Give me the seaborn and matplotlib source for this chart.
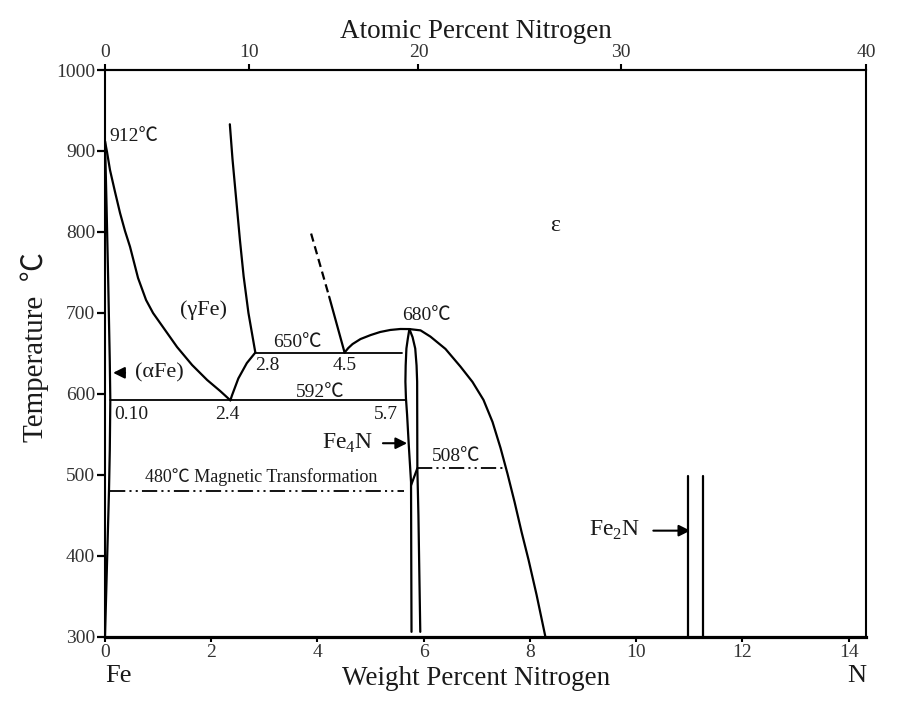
import matplotlib
matplotlib.use("Agg")
import matplotlib.pyplot as plt
import seaborn as sns

# Fe-N phase diagram, weight percent N vs temperature
alpha_x = [0.0, 0.03, 0.06, 0.09, 0.10, 0.09, 0.075, 0.05, 0.025, 0.0]
alpha_t = [912, 830, 740, 640, 592, 530, 480, 420, 360, 300]

gamma_left_x = [0.0, 0.038, 0.094, 0.189, 0.283, 0.377, 0.471, 0.622, 0.773,
                0.905, 1.131, 1.357, 1.640, 1.923, 2.168, 2.36]
gamma_left_t = [912, 898.7, 876.5, 849.3, 823.4, 801.1, 781.7, 743.1, 715.9,
                699.8, 678.8, 657.8, 635.6, 617.1, 603.5, 592]

gamma_right_x = [2.36, 2.39, 2.51, 2.67, 2.83]
gamma_right_t = [592, 598, 619, 638, 651]

gamma_solvus_x = [2.83, 2.70, 2.61, 2.54, 2.47, 2.40, 2.35]
gamma_solvus_t = [651, 700, 745, 790, 840, 890, 933]

dashed_x = [3.88, 4.22]
dashed_t = [798, 720]
solid_x = [4.22, 4.51]
solid_t = [720, 651]

eps_left_x = [4.51, 4.58, 4.66, 4.81, 5.00, 5.18, 5.37, 5.56, 5.73]
eps_left_t = [651, 656.6, 661.5, 667.7, 672.6, 676.4, 678.9, 680.1, 680]

eps_right_x = [5.73, 5.94, 6.126, 6.409, 6.692, 6.918, 7.125, 7.295, 7.446,
               7.578, 7.710, 7.842, 7.974, 8.125, 8.29]
eps_right_t = [680, 678.4, 670.7, 655.5, 633.6, 614.7, 592.5, 565.3, 533.1,
               501.0, 466.4, 429.3, 394.7, 351.5, 300]

fe4n_left_x = [5.73, 5.70, 5.674, 5.66, 5.655, 5.665, 5.687, 5.72, 5.761,
               5.765, 5.77]
fe4n_left_t = [680, 668, 656, 635, 615, 595, 574, 535, 491, 400, 306]
fe4n_right_x = [5.73, 5.79, 5.84, 5.865, 5.876, 5.878, 5.88, 5.90, 5.935]
fe4n_right_t = [680, 670, 656, 635, 615, 560, 508, 450, 306]
fe4n_diag_x = [5.761, 5.88]
fe4n_diag_t = [487, 508]

iso650_x = [2.83, 5.59]
iso592_x = [0.10, 5.65]
iso508_x = [5.88, 7.54]
iso480_x = [0.09, 5.62]

fe2n_x = [10.98, 11.25]
fe2n_t = [300, 498]

bottom_ticks = [0, 2, 4, 6, 8, 10, 12, 14]
top_ticks = [0, 10, 20, 30, 40]
y_ticks = [300, 400, 500, 600, 700, 800, 900, 1000]


def wt_to_at(w):
    n = w / 14.007
    return 100 * n / (n + (100 - w) / 55.845)


def at_to_wt(a):
    return 100 * 14.007 * a / (14.007 * a + 55.845 * (100 - a))


def draw(ax, xs, ts, lw=1.6, ls='-'):
    sns.lineplot(x=xs, y=ts, sort=False, estimator=None, color='black',
                 linewidth=lw, linestyle=ls, ax=ax)


sns.set_style('ticks')
plt.rcParams['font.family'] = ['Liberation Serif', 'Noto Sans CJK KR']
plt.rcParams['mathtext.fontset'] = 'custom'
plt.rcParams['mathtext.rm'] = 'Liberation Serif'
plt.rcParams['lines.scale_dashes'] = False

fig = plt.figure(figsize=(8.99, 7.03), dpi=100)
ax = fig.add_axes([0.1168, 0.0943, 0.8465, 0.8061])

draw(ax, alpha_x, alpha_t)
draw(ax, gamma_left_x, gamma_left_t)
draw(ax, gamma_right_x, gamma_right_t)
draw(ax, gamma_solvus_x, gamma_solvus_t)
draw(ax, dashed_x, dashed_t, ls=(0, (6, 3.5)))
draw(ax, solid_x, solid_t)
draw(ax, eps_left_x, eps_left_t)
draw(ax, eps_right_x, eps_right_t)
draw(ax, fe4n_left_x, fe4n_left_t)
draw(ax, fe4n_right_x, fe4n_right_t)
draw(ax, fe4n_diag_x, fe4n_diag_t)
draw(ax, iso650_x, [650, 650], lw=1.3)
draw(ax, iso592_x, [592, 592], lw=1.3)
ddot = (0, (11, 3, 1.5, 3, 1.5, 3))
draw(ax, iso508_x, [508, 508], lw=1.3, ls=ddot)
draw(ax, iso480_x, [480, 480], lw=1.3, ls=ddot)
for xv in fe2n_x:
    draw(ax, [xv, xv], fe2n_t)

arrow = dict(arrowstyle='-|>', color='black', lw=1.5, mutation_scale=17)
ax.annotate('', xy=(0.10, 626), xytext=(0.43, 626), arrowprops=arrow)
ax.annotate('', xy=(5.74, 539), xytext=(5.18, 539), arrowprops=arrow)
ax.annotate('', xy=(11.07, 431), xytext=(10.27, 431), arrowprops=arrow)

c = '#1a1a1a'
ax.text(0.075, 918, '912℃', fontsize=14, ha='left', va='center', color=c)
ax.text(1.85, 703, '(γFe)', fontsize=16, ha='center', va='center', color=c)
ax.text(3.63, 664, '650℃', fontsize=14, ha='center', va='center', color=c)
ax.text(2.83, 635, '2.8', fontsize=14, ha='left', va='center', color=c)
ax.text(4.51, 635, '4.5', fontsize=14, ha='center', va='center', color=c)
ax.text(4.05, 602, '592℃', fontsize=14, ha='center', va='center', color=c)
ax.text(0.5, 574, '0.10', fontsize=14, ha='center', va='center', color=c)
ax.text(2.31, 574, '2.4', fontsize=14, ha='center', va='center', color=c)
ax.text(5.29, 574, '5.7', fontsize=14, ha='center', va='center', color=c)
ax.text(6.05, 697, '680℃', fontsize=14, ha='center', va='center', color=c)
ax.text(6.61, 523, '508℃', fontsize=14, ha='center', va='center', color=c)
ax.text(2.94, 497, '480℃ Magnetic Transformation', fontsize=13,
        ha='center', va='center', color=c)
ax.text(8.48, 808, 'ε', fontsize=17, ha='center', va='center', color=c)
ax.text(0.566, 626, '(αFe)', fontsize=16, ha='left', va='center', color=c)
ax.text(5.05, 539, r'Fe$_{\mathrm{4}}$N', fontsize=17, ha='right', va='center', color=c)
ax.text(10.07, 431, r'Fe$_{\mathrm{2}}$N', fontsize=17, ha='right', va='center', color=c)
ax.text(0.0, 251, 'Fe', fontsize=19, ha='left', va='center', color=c, clip_on=False)
ax.text(14.33, 251, 'N', fontsize=19, ha='right', va='center', color=c, clip_on=False)

ax.set_xlim(0, at_to_wt(40))
ax.set_ylim(300, 1000)
ax.set_xticks(bottom_ticks)
ax.set_yticks(y_ticks)

for side in ['left', 'right', 'top']:
    ax.spines[side].set_linewidth(1.5)
    ax.spines[side].set_color('black')
ax.spines['bottom'].set_linewidth(2.3)
ax.spines['bottom'].set_color('black')

ax.tick_params(axis='y', direction='out', length=6, width=1.6, pad=1,
               labelsize=14, color='black', labelcolor='#333333')
ax.tick_params(axis='x', direction='out', length=3.5, width=1.5, pad=1.5,
               labelsize=14, color='black', labelcolor='#333333')

secax = ax.secondary_xaxis('top', functions=(wt_to_at, at_to_wt))
secax.set_xticks(top_ticks)
secax.tick_params(direction='out', length=4.5, width=1.5, pad=2,
                  labelsize=14, color='black', labelcolor='#333333')
secax.spines['top'].set_linewidth(1.5)
fig.text(476 / 899, 1 - 31 / 703, 'Atomic Percent Nitrogen', fontsize=19.5,
         ha='center', va='center', color=c)

ax.set_xlabel('Weight Percent Nitrogen', fontsize=19.5, color=c)
ax.xaxis.set_label_coords(0.4875, -0.052)
ax.set_ylabel('Temperature  ℃', fontsize=21, color=c)
ax.yaxis.set_label_coords(-0.0736, 0.511)

fig.savefig('out.png', dpi=100, facecolor='white')
